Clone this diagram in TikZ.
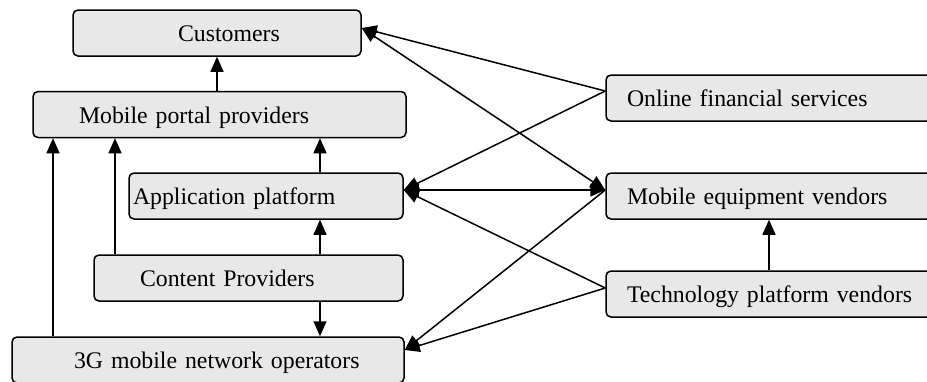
\documentclass[tikz,border=0pt]{standalone}
\usepackage{fontspec}
\setmainfont{Liberation Serif}
\usepackage{tikz}
\usetikzlibrary{arrows.meta,calc}
\definecolor{boxgray}{RGB}{232,232,232}
\tikzset{
  >={Triangle[length=7.5pt,width=6.5pt]},
  bx/.style={draw,fill=boxgray,rounded corners=2.5pt,inner xsep=0pt,inner ysep=0pt,minimum height=23pt,
    text height=8.5pt,text depth=0pt,align=left,font=\fontsize{11.9}{14}\selectfont},
  every picture/.style={line width=0.75pt},
}

\begin{document}
\begin{tikzpicture}[x=0.5pt,y=-0.5pt]
\useasboundingbox (0,0) rectangle (927,381); \clip (0,0) rectangle (927,381);
\node[bx,text width=144pt] (cust) at (217,33){\hspace*{52.5pt}Customers};
\node[bx,text width=186.5pt] (portal) at (219.5,114.5){\hspace*{23pt}Mobile portal providers};
\node[bx,text width=137pt] (app) at (266,196){\hspace*{2pt}Application platform};
\node[bx,text width=154.5pt] (cont) at (248.5,278){\hspace*{23pt}Content Providers};
\node[bx,text width=196pt] (net) at (208,360){\hspace*{31pt}3G mobile network operators};
\node[bx,text width=163pt] (fin) at (769,98){\hspace*{10.5pt}Online financial services};
\node[bx,text width=163pt] (equip) at (769,196){\hspace*{10.5pt}Mobile equipment vendors};
\node[bx,text width=163pt] (tech) at (769,294){\hspace*{10.5pt}Technology platform vendors};
% left column
\draw[->] (cust.south |- portal.north) -- (cust.south);
\draw[->] (53,0 |- net.north) -- (53,0 |- portal.south);
\draw[->] (115,0 |- cont.north) -- (115,0 |- portal.south);
\draw[->] (320,0 |- app.north) -- (320,0 |- portal.south);
\draw[->] (320,0 |- cont.north) -- (320,0 |- app.south);
\draw[->] (320,0 |- cont.south) -- (320,0 |- net.north);
% right column
\draw[->] (tech) -- (equip);
\draw[->] ([yshift=3.5pt]fin.west) -- ([yshift=2.5pt]cust.east);
\draw[->] ([yshift=3.5pt]fin.west) -- ([yshift=3pt]app.east);
\draw[<->] ([yshift=2.5pt]cust.east) -- ([yshift=3pt]equip.west);
\draw[<->] ([yshift=3pt]app.east) -- ([yshift=3pt]equip.west);
\draw[->] ([yshift=3pt]tech.west) -- ([yshift=3pt]app.east);
\draw[->] ([yshift=3pt]equip.west) -- ([yshift=5pt]net.east);
\draw[->] ([yshift=3pt]tech.west) -- ([yshift=5pt]net.east);
\end{tikzpicture}
\end{document}
